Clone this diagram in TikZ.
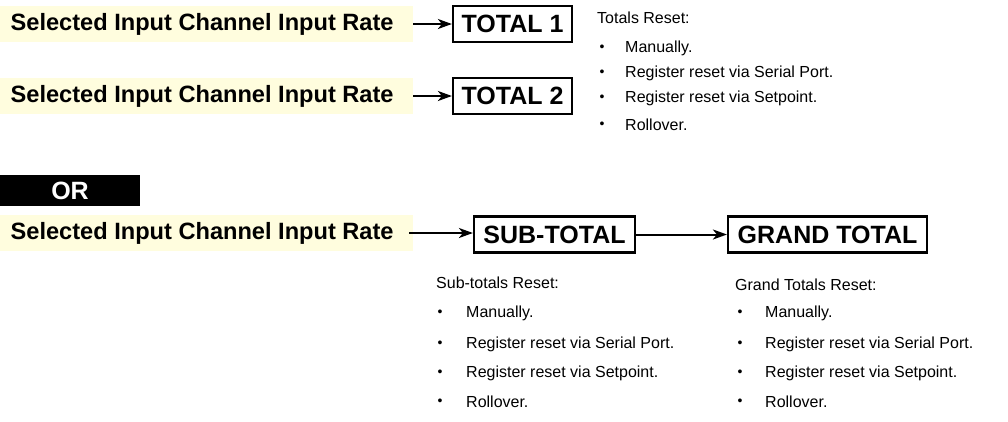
\documentclass[tikz,border=0pt]{standalone}
\usepackage{fontspec}
\setmainfont{Liberation Sans}
\usetikzlibrary{arrows.meta}
\definecolor{paleyellow}{RGB}{255,253,222}
\newcommand{\srctext}{\makebox[392pt][l]{Selected Input Channel Input Rate}}
\tikzset{
  src/.style={fill=paleyellow, anchor=west, minimum height=36pt, inner xsep=10.5pt, inner ysep=0pt, font=\fontsize{23.6}{28}\selectfont\bfseries},
  totbox/.style={draw, line width=2.2pt, minimum height=36pt, inner sep=0pt, font=\fontsize{25}{29}\selectfont\bfseries},
  conn/.style={line width=2pt, -{Stealth[length=14pt,width=10pt,inset=4pt]}},
  head/.style={anchor=west, inner sep=0pt, font=\fontsize{16}{19}\selectfont},
  item/.style={anchor=west, inner sep=0pt, font=\fontsize{16}{19}\selectfont},
  bul/.style={anchor=center, inner sep=0pt, font=\fontsize{14}{16}\selectfont},
}
\begin{document}
\begin{tikzpicture}[x=1pt,y=-1pt]
\useasboundingbox (0,0) rectangle (1008,421);
% row 1
\node[src] (in1) at (0,24) {\srctext};
\node[totbox, minimum width=119pt] (tot1) at (512.5,24) {TOTAL 1};
\draw[conn] (in1.east) -- (tot1.west);
% row 2
\node[src] (in2) at (0,96) {\srctext};
\node[totbox, minimum width=119pt] (tot2) at (512.5,96) {TOTAL 2};
\draw[conn] (in2.east) -- (tot2.west);
% totals reset list
\node[head] (th) at (597,18) {Totals Reset:};
\node[bul] (tb1) at (602,48) {•};  \node[item] (ti1) at (625,48) {Manually.};
\node[bul] (tb2) at (602,73) {•};  \node[item] (ti2) at (625,73) {Register reset via Serial Port.};
\node[bul] (tb3) at (602,98) {•};  \node[item] (ti3) at (625,98) {Register reset via Setpoint.};
\node[bul] (tb4) at (602,125) {•}; \node[item] (ti4) at (625,125) {Rollover.};
% OR
\node[fill=black, text=white, minimum width=140pt, minimum height=31pt, inner sep=0pt, font=\fontsize{25}{29}\selectfont\bfseries] (or) at (70,190.5) {OR};
% row 3
\node[src] (in3) at (0,233) {\srctext};
\node[totbox, minimum width=161pt] (sub) at (554.5,234.5) {SUB-TOTAL};
\node[totbox, minimum width=199pt] (grand) at (827.5,234.5) {GRAND TOTAL};
\draw[conn] ([xshift=-4pt]in3.east) -- (sub.west |- in3.east);
\draw[conn] (sub.east) -- (grand.west);
% sub-totals list
\node[head] (sh) at (436,283) {Sub-totals Reset:};
\node[bul] (sb1) at (440,313) {•}; \node[item] (si1) at (466,313) {Manually.};
\node[bul] (sb2) at (440,344) {•}; \node[item] (si2) at (466,344) {Register reset via Serial Port.};
\node[bul] (sb3) at (440,373) {•}; \node[item] (si3) at (466,373) {Register reset via Setpoint.};
\node[bul] (sb4) at (440,402) {•}; \node[item] (si4) at (466,402) {Rollover.};
% grand totals list
\node[head] (gh) at (735,285) {Grand Totals Reset:};
\node[bul] (gb1) at (740,313) {•}; \node[item] (gi1) at (765,313) {Manually.};
\node[bul] (gb2) at (740,344) {•}; \node[item] (gi2) at (765,344) {Register reset via Serial Port.};
\node[bul] (gb3) at (740,373) {•}; \node[item] (gi3) at (765,373) {Register reset via Setpoint.};
\node[bul] (gb4) at (740,402) {•}; \node[item] (gi4) at (765,402) {Rollover.};
\end{tikzpicture}
\end{document}
